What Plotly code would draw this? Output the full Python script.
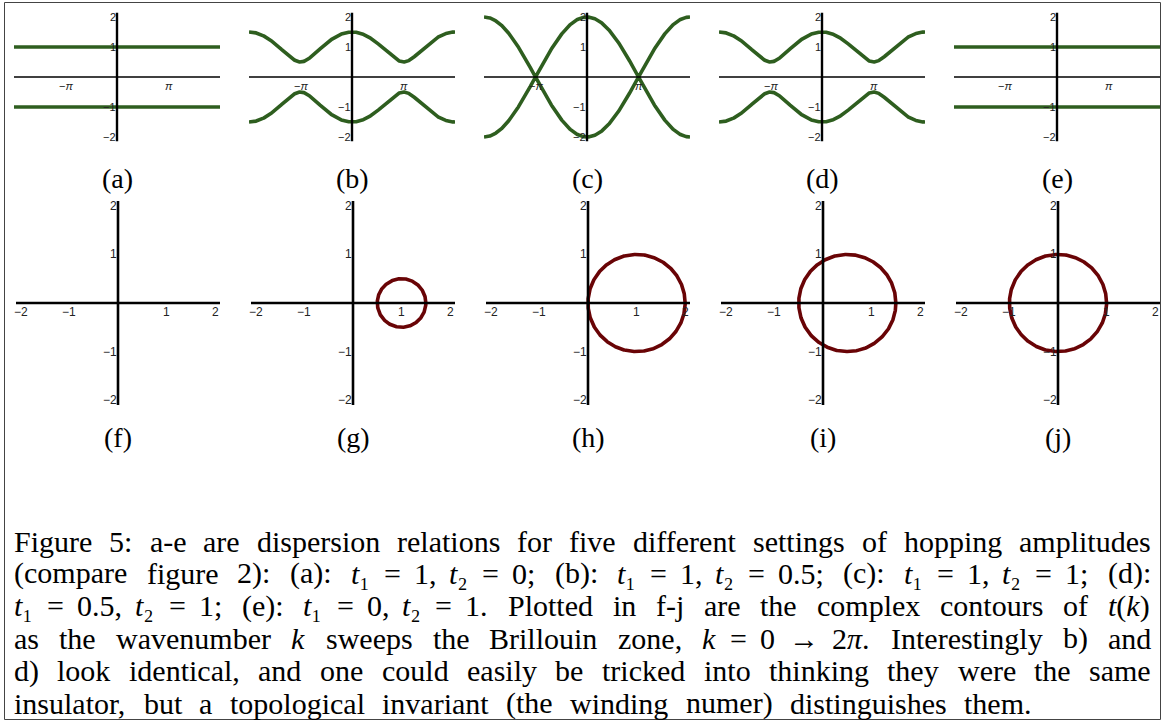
import numpy as np
import plotly.graph_objects as go

# ---------------------------------------------------------------- data
# hopping amplitudes t1, t2 for the five settings (a)-(e) / (f)-(j)
T1 = [1.0, 1.0, 1.0, 0.5, 0.0]
T2 = [0.0, 0.5, 1.0, 1.0, 1.0]

BAND_LABELS = ["(a)", "(b)", "(c)", "(d)", "(e)"]
CONTOUR_LABELS = ["(f)", "(g)", "(h)", "(i)", "(j)"]

BAND_XTICKS = [-np.pi, np.pi]
BAND_XTICK_TEXT = ["−<i>π</i>", "<i>π</i>"]
BAND_YTICKS = [2, 1, -1, -2]
PLANE_TICKS = [-2, -1, 1, 2]

K_BAND = np.linspace(-2 * np.pi, 2 * np.pi, 801)   # k axis of the dispersion plots
K_ZONE = np.linspace(0, 2 * np.pi, 601)            # k = 0 -> 2pi around the zone

# " " is an inter-word space, "~" a smaller space inside a formula
T1S, T2S = "<i>t</i>₁", "<i>t</i>₂"
CAPTION = [
    "Figure 5: a-e are dispersion relations for five different settings of hopping amplitudes",
    f"(compare figure 2): (a): {T1S}~=~1,~{T2S}~=~0; (b): {T1S}~=~1,~{T2S}~=~0.5; "
    f"(c): {T1S}~=~1,~{T2S}~=~1; (d):",
    f"{T1S}~=~0.5,~{T2S}~=~1; (e): {T1S}~=~0,~{T2S}~=~1. Plotted in f-j are the complex "
    "contours of <i>t</i>(<i>k</i>)",
    "as the wavenumber <i>k</i> sweeps the Brillouin zone, <i>k</i>~=~0~→~2<i>π</i>. "
    "Interestingly b) and",
    "d) look identical, and one could easily be tricked into thinking they were the same",
    "insulator, but a topological invariant (the winding numer) distinguishes them.",
]

# ---------------------------------------------------------------- geometry (pixels)
W, H = 1162, 722
TOP_X0 = [14, 249, 484, 719, 954]
TOP_W = 206
TOP_Y = (14, 140)
BOT_X0 = [16, 251, 486, 721, 956]
BOT_W = 204
BOT_Y = (201, 405)
TOP_LABEL_Y = 179
BOT_LABEL_Y = 437

GREEN = "#2e5e1f"
MAROON = "#690406"
SERIF = "Liberation Serif"
SANS = "Liberation Sans"


def px(x):
    return x / W


def py(y):
    return 1 - y / H


fig = go.Figure()
annotations = []
shapes = []


def axis_names(n):
    s = "" if n == 1 else str(n)
    return "x" + s, "y" + s, "xaxis" + s, "yaxis" + s


hidden = dict(showgrid=False, zeroline=False, showticklabels=False,
              showline=False, ticks="", fixedrange=True)

# ---------------------------------------------------------------- band structures
for i in range(5):
    n = i + 1
    xr, yr, xa, ya = axis_names(n)
    t1, t2 = T1[i], T2[i]
    energy = np.abs(t1 + t2 * np.exp(1j * K_BAND))
    for sign in (1, -1):
        fig.add_trace(go.Scatter(x=K_BAND, y=sign * energy, xaxis=xr, yaxis=yr,
                                 mode="lines", line=dict(color=GREEN, width=3.6),
                                 hoverinfo="skip", showlegend=False))
    fig.layout[xa] = dict(domain=[px(TOP_X0[i]), px(TOP_X0[i] + TOP_W)],
                          range=[-2 * np.pi, 2 * np.pi], anchor=yr, **hidden)
    fig.layout[ya] = dict(domain=[py(TOP_Y[1]), py(TOP_Y[0])],
                          range=[-2.1, 2.1], anchor=xr, **hidden)
    # axes through the origin
    shapes.append(dict(type="line", xref=xr + " domain", yref=yr, x0=0, x1=1, y0=0, y1=0,
                       line=dict(color="black", width=1.4), layer="above"))
    shapes.append(dict(type="line", xref=xr, yref=yr + " domain", x0=0, x1=0, y0=-0.01, y1=1.01,
                       line=dict(color="black", width=2.4), layer="above"))
    for xv, txt in zip(BAND_XTICKS, BAND_XTICK_TEXT):
        annotations.append(dict(x=xv, y=0, xref=xr, yref=yr, text=txt, showarrow=False,
                                xanchor="center", yanchor="middle", yshift=-9,
                                font=dict(family=SANS, size=11, color="#222")))
    for yv in BAND_YTICKS:
        annotations.append(dict(x=0, y=yv, xref=xr, yref=yr, text=str(yv).replace("-", "−"),
                                showarrow=False, xanchor="right", yanchor="middle",
                                xshift=1, font=dict(family=SANS, size=11, color="#222")))
    annotations.append(dict(x=px(TOP_X0[i] + TOP_W / 2), y=py(TOP_LABEL_Y), xref="paper",
                            yref="paper", text=BAND_LABELS[i], showarrow=False,
                            xanchor="center", yanchor="middle",
                            font=dict(family=SERIF, size=28, color="black")))

# ---------------------------------------------------------------- contours of t(k)
for i in range(5):
    n = i + 6
    xr, yr, xa, ya = axis_names(n)
    t1, t2 = T1[i], T2[i]
    tk = t1 + t2 * np.exp(1j * K_ZONE)
    fig.add_trace(go.Scatter(x=tk.real, y=tk.imag, xaxis=xr, yaxis=yr, mode="lines",
                             line=dict(color=MAROON, width=3.6),
                             hoverinfo="skip", showlegend=False))
    fig.layout[xa] = dict(domain=[px(BOT_X0[i]), px(BOT_X0[i] + BOT_W)],
                          range=[-2.1, 2.1], anchor=yr, **hidden)
    fig.layout[ya] = dict(domain=[py(BOT_Y[1]), py(BOT_Y[0])],
                          range=[-2.1, 2.1], anchor=xr, **hidden)
    shapes.append(dict(type="line", xref=xr + " domain", yref=yr, x0=0, x1=1, y0=0, y1=0,
                       line=dict(color="black", width=2.6), layer="above"))
    shapes.append(dict(type="line", xref=xr, yref=yr + " domain", x0=0, x1=0, y0=0, y1=1,
                       line=dict(color="black", width=2.6), layer="above"))
    for v in PLANE_TICKS:
        lab = str(v).replace("-", "−")
        annotations.append(dict(x=v, y=0, xref=xr, yref=yr, text=lab, showarrow=False,
                                xanchor="center", yanchor="middle", yshift=-9,
                                font=dict(family=SANS, size=12, color="#222")))
        annotations.append(dict(x=0, y=v, xref=xr, yref=yr, text=lab, showarrow=False,
                                xanchor="right", yanchor="middle", xshift=1,
                                font=dict(family=SANS, size=12, color="#222")))
    annotations.append(dict(x=px(BOT_X0[i] + BOT_W / 2), y=py(BOT_LABEL_Y), xref="paper",
                            yref="paper", text=CONTOUR_LABELS[i], showarrow=False,
                            xanchor="center", yanchor="middle",
                            font=dict(family=SERIF, size=28, color="black")))

# ---------------------------------------------------------------- caption (justified)
CAP_SIZE = 30
CAP_LEFT = 13
CAP_RIGHT = [1150, 1150, 1150, 1150, 1150, 1030]   # right edge of each caption line
CAP_Y0, CAP_DY = 541, 32.4
FORMULA_STRETCH = 0.45   # share of the extra word gap given to spaces inside formulas

# advance widths of the serif face, 1/1000 em
GLYPH = {" ": 250, "(": 333, ")": 333, ",": 250, "-": 333, ".": 250, ":": 278,
         ";": 278, "=": 564, "→": 1000, "π": 549, "−": 564, "₁": 400, "₂": 400}
GLYPH.update({d: 500 for d in "0123456789"})
GLYPH.update(dict(zip("ABCDEFGHIJKLMNOPQRSTUVWXYZ",
                      [722, 667, 667, 722, 611, 556, 722, 722, 333, 389, 722, 611, 889, 722,
                       722, 556, 722, 667, 556, 611, 722, 722, 944, 722, 722, 611])))
GLYPH.update(dict(zip("abcdefghijklmnopqrstuvwxyz",
                      [444, 500, 444, 500, 444, 333, 500, 500, 278, 278, 500, 278, 778, 500,
                       500, 500, 500, 333, 389, 278, 500, 500, 722, 500, 500, 444])))


def word_width(token, size):
    plain = token.replace("<i>", "").replace("</i>", "")
    return sum(GLYPH.get(ch, 500) for ch in plain) * size / 1000


def split_line(line):
    """Split a caption line into (token, separator-after) pairs."""
    out, cur = [], ""
    for ch in line:
        if ch in " ~":
            out.append((cur, ch))
            cur = ""
        else:
            cur += ch
    out.append((cur, None))
    return out


cap_font = dict(family=SERIF, size=CAP_SIZE, color="black")
space = GLYPH[" "] * CAP_SIZE / 1000
for li, line in enumerate(CAPTION):
    yc = CAP_Y0 + li * CAP_DY
    parts = split_line(line)
    total = sum(word_width(t, CAP_SIZE) for t, _ in parts)
    n_word = sum(1 for _, s in parts if s == " ")
    n_form = sum(1 for _, s in parts if s == "~")
    base = total + space * (n_word + n_form)
    extra = (CAP_RIGHT[li] - CAP_LEFT - base) / (n_word + FORMULA_STRETCH * n_form)
    x = CAP_LEFT
    for tok, sep in parts:
        annotations.append(dict(x=px(x), y=py(yc), xref="paper", yref="paper",
                                text=tok, showarrow=False,
                                xanchor="left", yanchor="middle",
                                borderpad=0, font=cap_font))
        x += word_width(tok, CAP_SIZE)
        if sep == " ":
            x += space + extra
        elif sep == "~":
            x += space + FORMULA_STRETCH * extra

# frame around the whole figure
shapes.append(dict(type="rect", xref="paper", yref="paper", x0=px(4.5), x1=px(1160.5),
                   y0=py(719.5), y1=py(2.5), line=dict(color="#444", width=1)))

fig.update_layout(width=W, height=H, margin=dict(l=0, r=0, t=0, b=0),
                  paper_bgcolor="white", plot_bgcolor="white",
                  showlegend=False, annotations=annotations, shapes=shapes)

fig.write_html("out.html", config={"displayModeBar": False})
